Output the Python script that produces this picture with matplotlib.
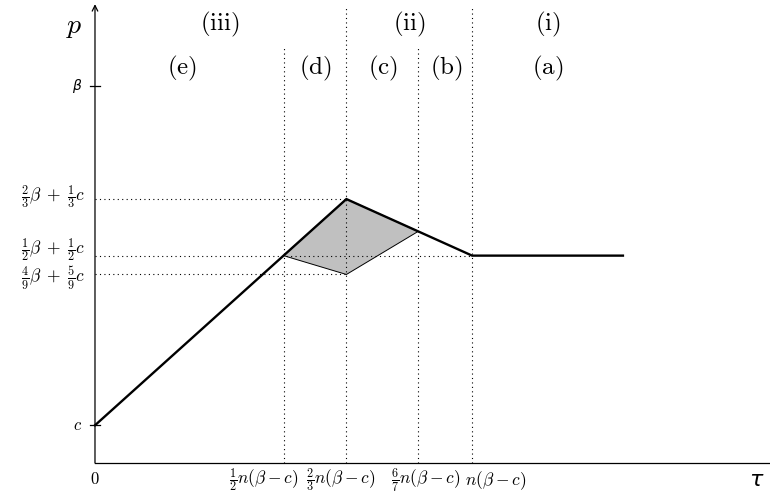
import matplotlib
matplotlib.use("Agg")
import matplotlib.pyplot as plt

plt.rcParams['mathtext.fontset'] = 'cm'

# values (beta = 10, c = 1, n(beta - c) = 9)
curve_tau = [0, 6, 9, 12.6]
curve_p = [1, 7, 5.5, 5.5]

shade_tau = [4.5, 6, 7.714, 6]
shade_p = [5.5, 7, 6.143, 5]

ytick_vals = [1, 10]
ytick_labels = [r'$c$', r'$\beta$']
yguide_vals = [7, 5.5, 5]
yguide_ends = [6, 9, 6]
yguide_labels = [r'$\frac{2}{3}\beta\;+\;\frac{1}{3}c$',
                 r'$\frac{1}{2}\beta\;+\;\frac{1}{2}c$',
                 r'$\frac{4}{9}\beta\;+\;\frac{5}{9}c$']
yguide_label_offsets = [0.05, 0.13, -0.1]

xguide_vals = [4.5, 6, 7.714, 9]
xguide_tops = [11.0, 12.1, 11.0, 12.1]
xguide_labels = [r'$\frac{1}{2}n(\beta-c)$', r'$\frac{2}{3}n(\beta-c)$',
                 r'$\frac{6}{7}n(\beta-c)$', r'$n(\beta-c)$']
xguide_label_pos = [4.03, 5.87, 7.90, 9.55]

upper_labels = ['(iii)', '(ii)', '(i)']
upper_x = [2.98, 7.5, 10.8]
lower_labels = ['(e)', '(d)', '(c)', '(b)', '(a)']
lower_x = [2.08, 5.27, 6.87, 8.38, 10.8]

fig = plt.figure(figsize=(7.7, 4.95), dpi=100)
ax = fig.add_axes([0, 0, 1, 1])
ax.set_xlim(-2.267, 16.11)
ax.set_ylim(-0.849, 12.28)
ax.axis('off')

# axes
ax.plot([0, 16.2], [0, 0], color='black', lw=0.9)
ax.annotate('', xy=(0, 12.17), xytext=(0, 0),
            arrowprops=dict(arrowstyle='->', lw=0.9, color='black',
                            shrinkA=0, shrinkB=0))
ax.text(-0.3, 11.6, r'$p$', fontsize=20, ha='right', va='center')
ax.text(15.8, -0.45, r'$\tau$', fontsize=16, ha='center', va='center',
        math_fontfamily='dejavusans')
ax.text(0, -0.42, r'$0$', fontsize=12, ha='center', va='center')

# y ticks
for v, lab in zip(ytick_vals, ytick_labels):
    ax.plot([-0.12, 0.12], [v, v], color='black', lw=0.9)
    mf = 'dejavusans' if 'beta' in lab else 'cm'
    ax.text(-0.3, v, lab, fontsize=12 if mf == 'cm' else 10,
            ha='right', va='center', math_fontfamily=mf)

# guide lines
for v, end, lab, off in zip(yguide_vals, yguide_ends, yguide_labels,
                            yguide_label_offsets):
    ax.plot([0, end], [v, v], color='black', lw=0.8, ls=(0, (1, 3)))
    ax.text(-0.24, v + off, lab, fontsize=12.5, ha='right', va='center')

for v, top, lab, pos in zip(xguide_vals, xguide_tops, xguide_labels,
                            xguide_label_pos):
    ax.plot([v, v], [0, top], color='black', lw=0.8, ls=(0, (1, 3)))
    ax.text(pos, -0.47, lab, fontsize=12.5, ha='center', va='center')

# shaded region
ax.fill(shade_tau, shade_p, facecolor='#c0c0c0', edgecolor='black', lw=0.7)

# main curve
ax.plot(curve_tau, curve_p, color='black', lw=1.7, solid_joinstyle='miter')

for lab, x in zip(upper_labels, upper_x):
    ax.text(x, 11.62, r'$\mathrm{' + lab + '}$', fontsize=18,
            ha='center', va='center')
for lab, x in zip(lower_labels, lower_x):
    ax.text(x, 10.47, r'$\mathrm{' + lab + '}$', fontsize=18,
            ha='center', va='center')

fig.savefig('out.png', dpi=100)
